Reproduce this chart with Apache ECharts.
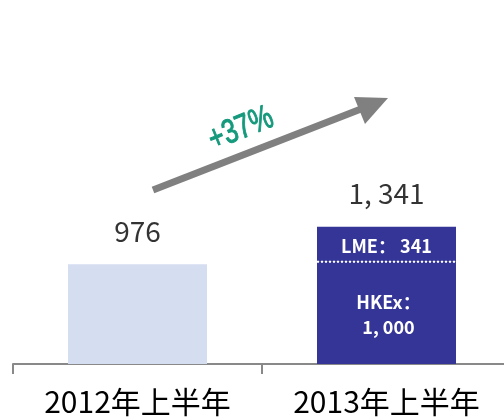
<!DOCTYPE html>
<html><head><meta charset="utf-8">
<script src="https://cdn.jsdelivr.net/npm/echarts@6/dist/echarts.min.js"></script>
<style>html,body{margin:0;padding:0;background:#fff}#c{width:504px;height:418px}</style>
</head><body><div id="c"></div>
<script>
var categories = ['2012年上半年', '2013年上半年'];
var hkexValues = [976, 1000];
var lmeValues = ['-', 341];
var totalLabels = ['976', '1, 341'];
var innerHkexLabel = 'HKEx：\n1, 000';
var innerLmeLabel = 'LME： 341';
var growthText = '+37%';

var totals = hkexValues.map(function (v, i) { return v + (lmeValues[i] === '-' ? 0 : lmeValues[i]); });

var chart = echarts.init(document.getElementById('c'));
var font = '"Noto Sans CJK SC", "Noto Sans", sans-serif';
chart.setOption({
  animation: false,
  grid: { left: 13, width: 498, top: 6, height: 358, outerBoundsMode: 'none', containLabel: false },
  xAxis: {
    type: 'category', data: categories,
    axisLine: { lineStyle: { color: '#898989', width: 2 } },
    axisTick: { show: true, length: 10, lineStyle: { color: '#898989', width: 2 } },
    axisLabel: { color: '#000', fontSize: 30, fontFamily: font, margin: 23 }
  },
  yAxis: { type: 'value', min: 0, max: 3500, show: false, splitLine: { show: false } },
  series: [
    {
      type: 'bar', stack: 's', barWidth: 139,
      data: hkexValues.map(function (v, i) {
        return {
          value: v,
          itemStyle: { color: i === 0 ? '#D5DDF0' : '#353598' },
          label: i === 1 ? {
            show: true, position: 'inside', formatter: innerHkexLabel,
            color: '#fff', fontSize: 18, fontWeight: 'bold', fontFamily: font, lineHeight: 25, offset: [2, 2]
          } : { show: false }
        };
      })
    },
    {
      type: 'bar', stack: 's', barWidth: 139,
      data: lmeValues,
      itemStyle: { color: '#353598' },
      label: {
        show: true, position: 'inside', formatter: innerLmeLabel,
        color: '#fff', fontSize: 18, fontWeight: 'bold', fontFamily: font, offset: [0, 2]
      }
    },
    {
      type: 'scatter', symbolSize: 0, silent: true,
      data: totals.map(function (v, i) { return [i, v]; }),
      label: {
        show: true, position: 'top', distance: 19,
        formatter: function (p) { return totalLabels[p.dataIndex]; },
        color: '#000', fontSize: 28, fontFamily: font
      }
    }
  ]
});

// dotted separator between HKEx and LME in the 2013 bar
var p1 = chart.convertToPixel({ gridIndex: 0 }, [1, hkexValues[1]]);
chart.setOption({
  graphic: [
    { type: 'line', shape: { x1: p1[0] - 69.5, y1: p1[1], x2: p1[0] + 69.5, y2: p1[1] },
      style: { stroke: '#fff', lineWidth: 2, lineDash: [2, 2] }, z: 100 },
    { type: 'line', shape: { x1: 153, y1: 190, x2: 361, y2: 109 },
      style: { stroke: '#808080', lineWidth: 7 }, z: 100 },
    { type: 'polygon', shape: { points: [[354, 97], [388, 98], [365, 124]] },
      style: { fill: '#808080' }, z: 100 },
    { type: 'text', x: 241, y: 129, rotation: 22 * Math.PI / 180, scaleX: 0.76, scaleY: 1,
      style: { text: growthText, fill: '#15997C', stroke: '#15997C', lineWidth: 1,
        font: '34px "Liberation Sans", sans-serif',
        align: 'center', verticalAlign: 'middle' }, z: 100 }
  ]
});
</script></body></html>
